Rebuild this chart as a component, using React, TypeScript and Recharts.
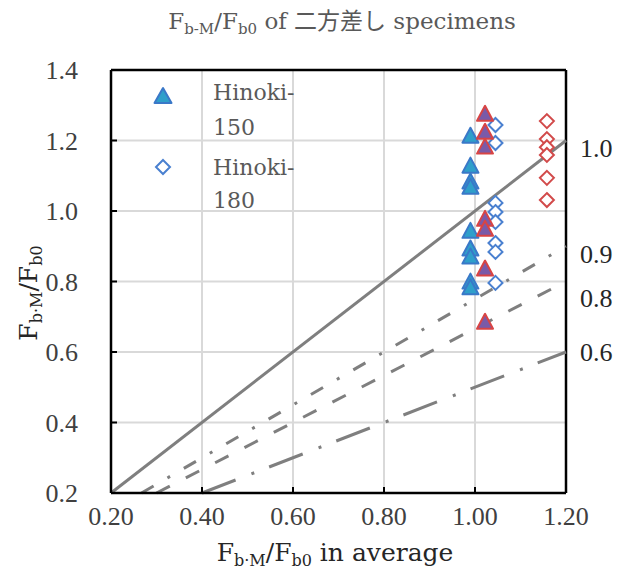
import React from 'react';
import {
  ScatterChart,
  Scatter,
  XAxis,
  YAxis,
  CartesianGrid,
  ReferenceLine,
  ReferenceDot,
  Legend,
} from 'recharts';

// ---- data ----
const xTicks = [0.2, 0.4, 0.6, 0.8, 1.0, 1.2];
const yTicks = [0.2, 0.4, 0.6, 0.8, 1.0, 1.2, 1.4];

const hinoki150Blue = [
  { x: 0.99, y: 1.21 },
  { x: 0.99, y: 1.125 },
  { x: 0.99, y: 1.08 },
  { x: 0.99, y: 1.065 },
  { x: 0.99, y: 0.94 },
  { x: 0.99, y: 0.89 },
  { x: 0.99, y: 0.867 },
  { x: 0.99, y: 0.796 },
  { x: 0.99, y: 0.78 },
];
const hinoki150Red = [
  { x: 1.022, y: 1.272 },
  { x: 1.022, y: 1.221 },
  { x: 1.022, y: 1.179 },
  { x: 1.022, y: 0.974 },
  { x: 1.022, y: 0.946 },
  { x: 1.022, y: 0.833 },
  { x: 1.022, y: 0.682 },
];
const hinoki180Blue = [
  { x: 1.045, y: 1.244 },
  { x: 1.045, y: 1.193 },
  { x: 1.045, y: 1.023 },
  { x: 1.045, y: 0.997 },
  { x: 1.045, y: 0.969 },
  { x: 1.045, y: 0.909 },
  { x: 1.045, y: 0.884 },
  { x: 1.045, y: 0.796 },
];
const hinoki180Red = [
  { x: 1.158, y: 1.255 },
  { x: 1.158, y: 1.204 },
  { x: 1.158, y: 1.181 },
  { x: 1.158, y: 1.159 },
  { x: 1.158, y: 1.094 },
  { x: 1.158, y: 1.031 },
];

const ratioLabels = ['1.0', '0.9', '0.8', '0.6'];
const ratioStart = [
  { x: 0.2, y: 0.2 },
  { x: 0.267, y: 0.2 },
  { x: 0.3, y: 0.2 },
  { x: 0.4, y: 0.2 },
];
const ratioEnd = [
  { x: 1.2, y: 1.2 },
  { x: 1.2, y: 0.9 },
  { x: 1.2, y: 0.8 },
  { x: 1.2, y: 0.6 },
];
const ratioLabelY = [1.18, 0.88, 0.753, 0.6];

const legendLines = [
  ['Hinoki-', '150'],
  ['Hinoki-', '180'],
];

// ---- styles ----
const ratioDash = ['', '14 16 3 16', '15 18', '36 17 3 16'];
const SERIF_TEXT = "'DejaVu Serif', 'Noto Sans CJK JP', serif";
const SERIF_NUM = "'Liberation Serif', serif";

const Triangle = (props: any) => {
  const { cx, cy, fill, stroke } = props;
  if (cx == null || cy == null) return null;
  const w = 16;
  const h = 15;
  const pts = `${cx},${cy - h * 0.62} ${cx - w / 2},${cy + h * 0.38} ${cx + w / 2},${cy + h * 0.38}`;
  return <polygon points={pts} fill={fill} stroke={stroke} strokeWidth={2} strokeLinejoin="round" />;
};

const Diamond = (props: any) => {
  const { cx, cy, stroke } = props;
  if (cx == null || cy == null) return null;
  const r = 7;
  const pts = `${cx},${cy - r} ${cx + r},${cy} ${cx},${cy + r} ${cx - r},${cy}`;
  return <polygon points={pts} fill="#ffffff" stroke={stroke} strokeWidth={2} />;
};

const LegendContent = () => (
  <svg width={170} height={150} style={{ overflow: 'visible' }}>
    <polygon points="25,10 16.5,25 33.5,25" fill="#2f9fca" stroke="#3a78c8" strokeWidth={2} strokeLinejoin="round" />
    <text x={75} y={22} fontFamily={SERIF_TEXT} fontSize={22} fill="#595959">{legendLines[0][0]}</text>
    <text x={75} y={57} fontFamily={SERIF_TEXT} fontSize={22} fill="#595959">{legendLines[0][1]}</text>
    <polygon points="25,82 32,89 25,96 18,89" fill="#ffffff" stroke="#4a80d0" strokeWidth={2} />
    <text x={75} y={97} fontFamily={SERIF_TEXT} fontSize={22} fill="#595959">{legendLines[1][0]}</text>
    <text x={75} y={130} fontFamily={SERIF_TEXT} fontSize={22} fill="#595959">{legendLines[1][1]}</text>
  </svg>
);

export default function App() {
  const W = 617;
  const H = 568;
  return (
    <div style={{ position: 'relative', width: W, height: H }}>
      <ScatterChart
        width={W}
        height={H}
        margin={{ top: 62, right: 59, bottom: 43, left: 0 }}
      >
        <CartesianGrid stroke="#d9d9d9" strokeWidth={2} />
        <XAxis
          type="number"
          dataKey="x"
          domain={[0.2, 1.2]}
          ticks={xTicks}
          allowDataOverflow
          height={40}
          tickFormatter={(v: number) => v.toFixed(2)}
          axisLine={{ stroke: '#000', strokeWidth: 2.5 }}
          tickLine={{ stroke: '#000', strokeWidth: 2 }}
          tickSize={-6}
          tickMargin={20}
          tick={{ fontFamily: SERIF_NUM, fontSize: 26, fill: '#404040' }}
        />
        <YAxis
          type="number"
          dataKey="y"
          domain={[0.2, 1.4]}
          ticks={yTicks}
          allowDataOverflow
          width={103}
          tickFormatter={(v: number) => v.toFixed(1)}
          axisLine={{ stroke: '#000', strokeWidth: 2.5 }}
          tickLine={{ stroke: '#000', strokeWidth: 2 }}
          tickSize={-6}
          tickMargin={39}
          tick={{ fontFamily: SERIF_NUM, fontSize: 26, fill: '#404040' }}
        />
        <ReferenceLine y={1.4} stroke="#000" strokeWidth={2.5} />
        <ReferenceLine x={1.2} stroke="#000" strokeWidth={2.5} />
        {ratioLabels.map((lab, i) => (
          <ReferenceLine
            key={'line' + lab}
            segment={[ratioStart[i], ratioEnd[i]]}
            stroke="#7f7f7f"
            strokeWidth={3}
            strokeDasharray={ratioDash[i] || undefined}
            ifOverflow="visible"
          />
        ))}
        {ratioLabels.map((lab, i) => (
          <ReferenceDot
            key={'lab' + lab}
            x={1.2}
            y={ratioLabelY[i]}
            r={0}
            fill="none"
            stroke="none"
            ifOverflow="visible"
            label={{
              value: lab,
              position: 'right',
              offset: 14,
              fontFamily: SERIF_NUM,
              fontSize: 26,
              fill: '#262626',
            }}
          />
        ))}
        <Scatter
          name="Hinoki-150"
          data={hinoki150Blue}
          fill="#2f9fca"
          stroke="#3a78c8"
          shape={<Triangle />}
          isAnimationActive={false}
        />
        <Scatter
          name="Hinoki-180"
          data={hinoki180Blue}
          stroke="#4a80d0"
          fill="#ffffff"
          shape={<Diamond />}
          isAnimationActive={false}
        />
        <Scatter
          name="Hinoki-150 (2)"
          data={hinoki150Red}
          fill="#7a5aa8"
          stroke="#d84444"
          shape={<Triangle />}
          legendType="none"
          isAnimationActive={false}
        />
        <Scatter
          name="Hinoki-180 (2)"
          data={hinoki180Red}
          stroke="#d24a4a"
          fill="#ffffff"
          shape={<Diamond />}
          legendType="none"
          isAnimationActive={false}
        />
        <Legend
          layout="vertical"
          align="center"
          verticalAlign="middle"
          wrapperStyle={{ position: 'absolute', left: 130, top: 70, width: 170, height: 150 }}
          content={() => <LegendContent />}
        />
      </ScatterChart>
      <svg
        width={W}
        height={H}
        style={{ position: 'absolute', left: 0, top: 0, pointerEvents: 'none' }}
      >
        <text x={334} y={21} textAnchor="middle" fontFamily={SERIF_TEXT} fontSize={23} fill="#595959">
          F<tspan fontSize={15} dy={5}>b-M</tspan>
          <tspan dy={-5}>/F</tspan>
          <tspan fontSize={15} dy={5}>b0</tspan>
          <tspan dy={-5}> of 二方差し specimens</tspan>
        </text>
        <text x={327} y={553} textAnchor="middle" fontFamily={SERIF_TEXT} fontSize={25} fill="#262626">
          F<tspan fontSize={16} dy={5}>b·M</tspan>
          <tspan dy={-5}>/F</tspan>
          <tspan fontSize={16} dy={5}>b0</tspan>
          <tspan dy={-5}> in average</tspan>
        </text>
        <text
          x={29}
          y={285}
          transform="rotate(-90, 29, 285)"
          textAnchor="middle"
          fontFamily={SERIF_TEXT}
          fontSize={25}
          fill="#262626"
        >
          F<tspan fontSize={16} dy={5}>b·M</tspan>
          <tspan dy={-5}>/F</tspan>
          <tspan fontSize={16} dy={5}>b0</tspan>
        </text>
      </svg>
    </div>
  );
}
